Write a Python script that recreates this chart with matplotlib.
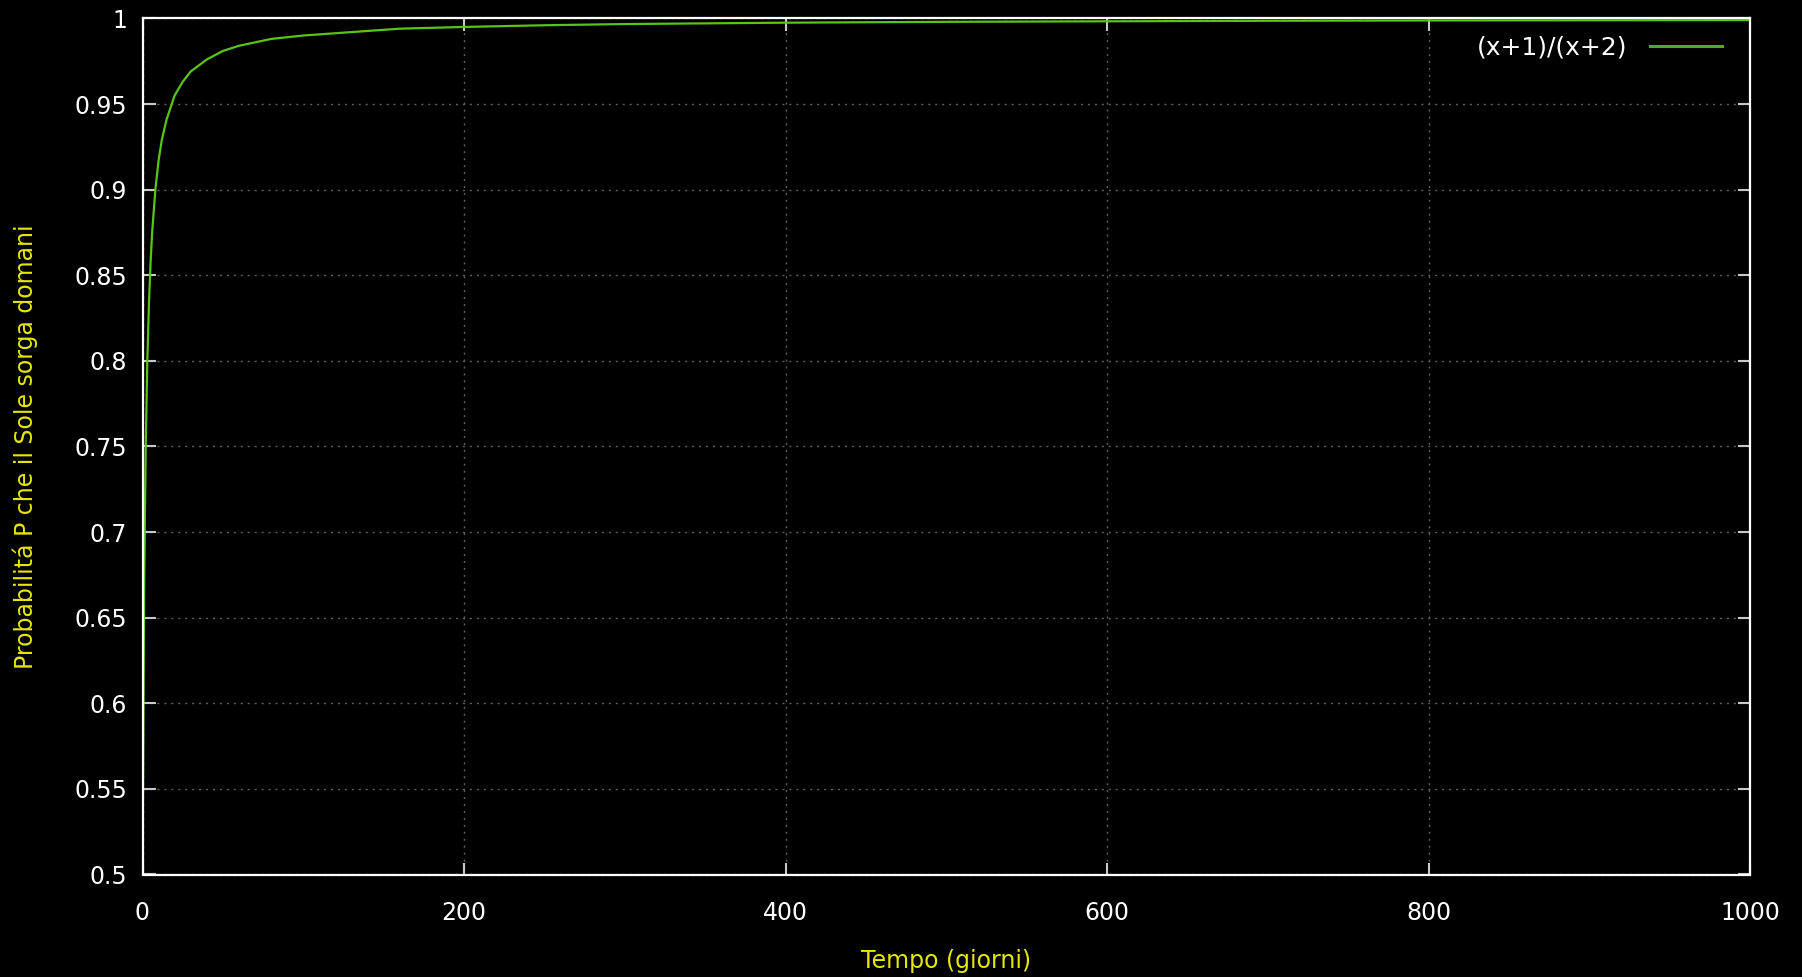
import matplotlib
matplotlib.use("Agg")
import matplotlib.pyplot as plt

# Data
days = [0, 1, 2, 3, 4, 5, 6, 8, 10, 12, 15, 20, 25, 30, 40, 50, 60, 80,
        100, 130, 160, 200, 250, 300, 400, 500, 600, 700, 800, 900, 1000]
prob = [0.5, 0.667, 0.75, 0.8, 0.833, 0.857, 0.875, 0.9, 0.917, 0.929,
        0.941, 0.955, 0.963, 0.969, 0.976, 0.981, 0.984, 0.988,
        0.990, 0.992, 0.994, 0.995, 0.996, 0.9967, 0.9975, 0.998, 0.9983,
        0.9986, 0.9988, 0.9989, 0.999]
series_label = "(x+1)/(x+2)"
x_ticks = [0, 200, 400, 600, 800, 1000]
x_tick_labels = ["0", "200", "400", "600", "800", "1000"]
y_ticks = [0.5, 0.55, 0.6, 0.65, 0.7, 0.75, 0.8, 0.85, 0.9, 0.95, 1.0]
y_tick_labels = ["0.5", "0.55", "0.6", "0.65", "0.7", "0.75", "0.8",
                 "0.85", "0.9", "0.95", "1"]
x_label = "Tempo (giorni)"
y_label = "Probabilitá P che il Sole sorga domani"

plt.rcParams['font.family'] = ['DejaVu Sans']

W, H = 1802, 977
fig = plt.figure(figsize=(W / 100, H / 100), dpi=100, facecolor='black')
left, right, top, bottom = 142.5, 1750, 18.4, 874.5
ax = fig.add_axes([left / W, 1 - bottom / H, (right - left) / W, (bottom - top) / H])
ax.set_facecolor('black')

ax.plot(days, prob, color='#58c418', lw=1.6, label=series_label, zorder=2)

ax.set_xlim(0, 1000)
ax.set_ylim(0.5, 1.0)
ax.set_xticks(x_ticks)
ax.set_xticklabels(x_tick_labels)
ax.set_yticks(y_ticks)
ax.set_yticklabels(y_tick_labels)

ax.grid(True, color='#5e5e5e', linestyle=(0, (1.5, 3.5)), lw=1.0)
ax.set_axisbelow(True)

for sp in ax.spines.values():
    sp.set_color('white')
    sp.set_linewidth(1.6)
    sp.set_zorder(3)

ax.tick_params(axis='both', which='both', direction='in', length=9, width=1.5,
               color='#c8c8c8', labelcolor='white', labelsize=17,
               top=True, right=True)
ax.tick_params(axis='y', pad=11)
ax.tick_params(axis='x', pad=19)

fig.text((left + right) / 2 / W, 1 - 961 / H, x_label, color='#e6e600',
         fontsize=17, ha='center', va='center')
fig.text(25 / W, 1 - (top + bottom) / 2 / H, y_label, color='#e6e600',
         fontsize=17, ha='center', va='center', rotation=90)

leg = ax.legend(loc='center right', bbox_to_anchor=(1722 / W, 1 - 48 / H),
                bbox_transform=fig.transFigure, frameon=False, markerfirst=False,
                fontsize=18, handlelength=2.9, handletextpad=0.9,
                borderpad=0, borderaxespad=0)
for t in leg.get_texts():
    t.set_color('white')
for l in leg.get_lines():
    l.set_color('#4cae1e')
    l.set_linewidth(2.2)

fig.savefig('out.png', dpi=100, facecolor='black')
